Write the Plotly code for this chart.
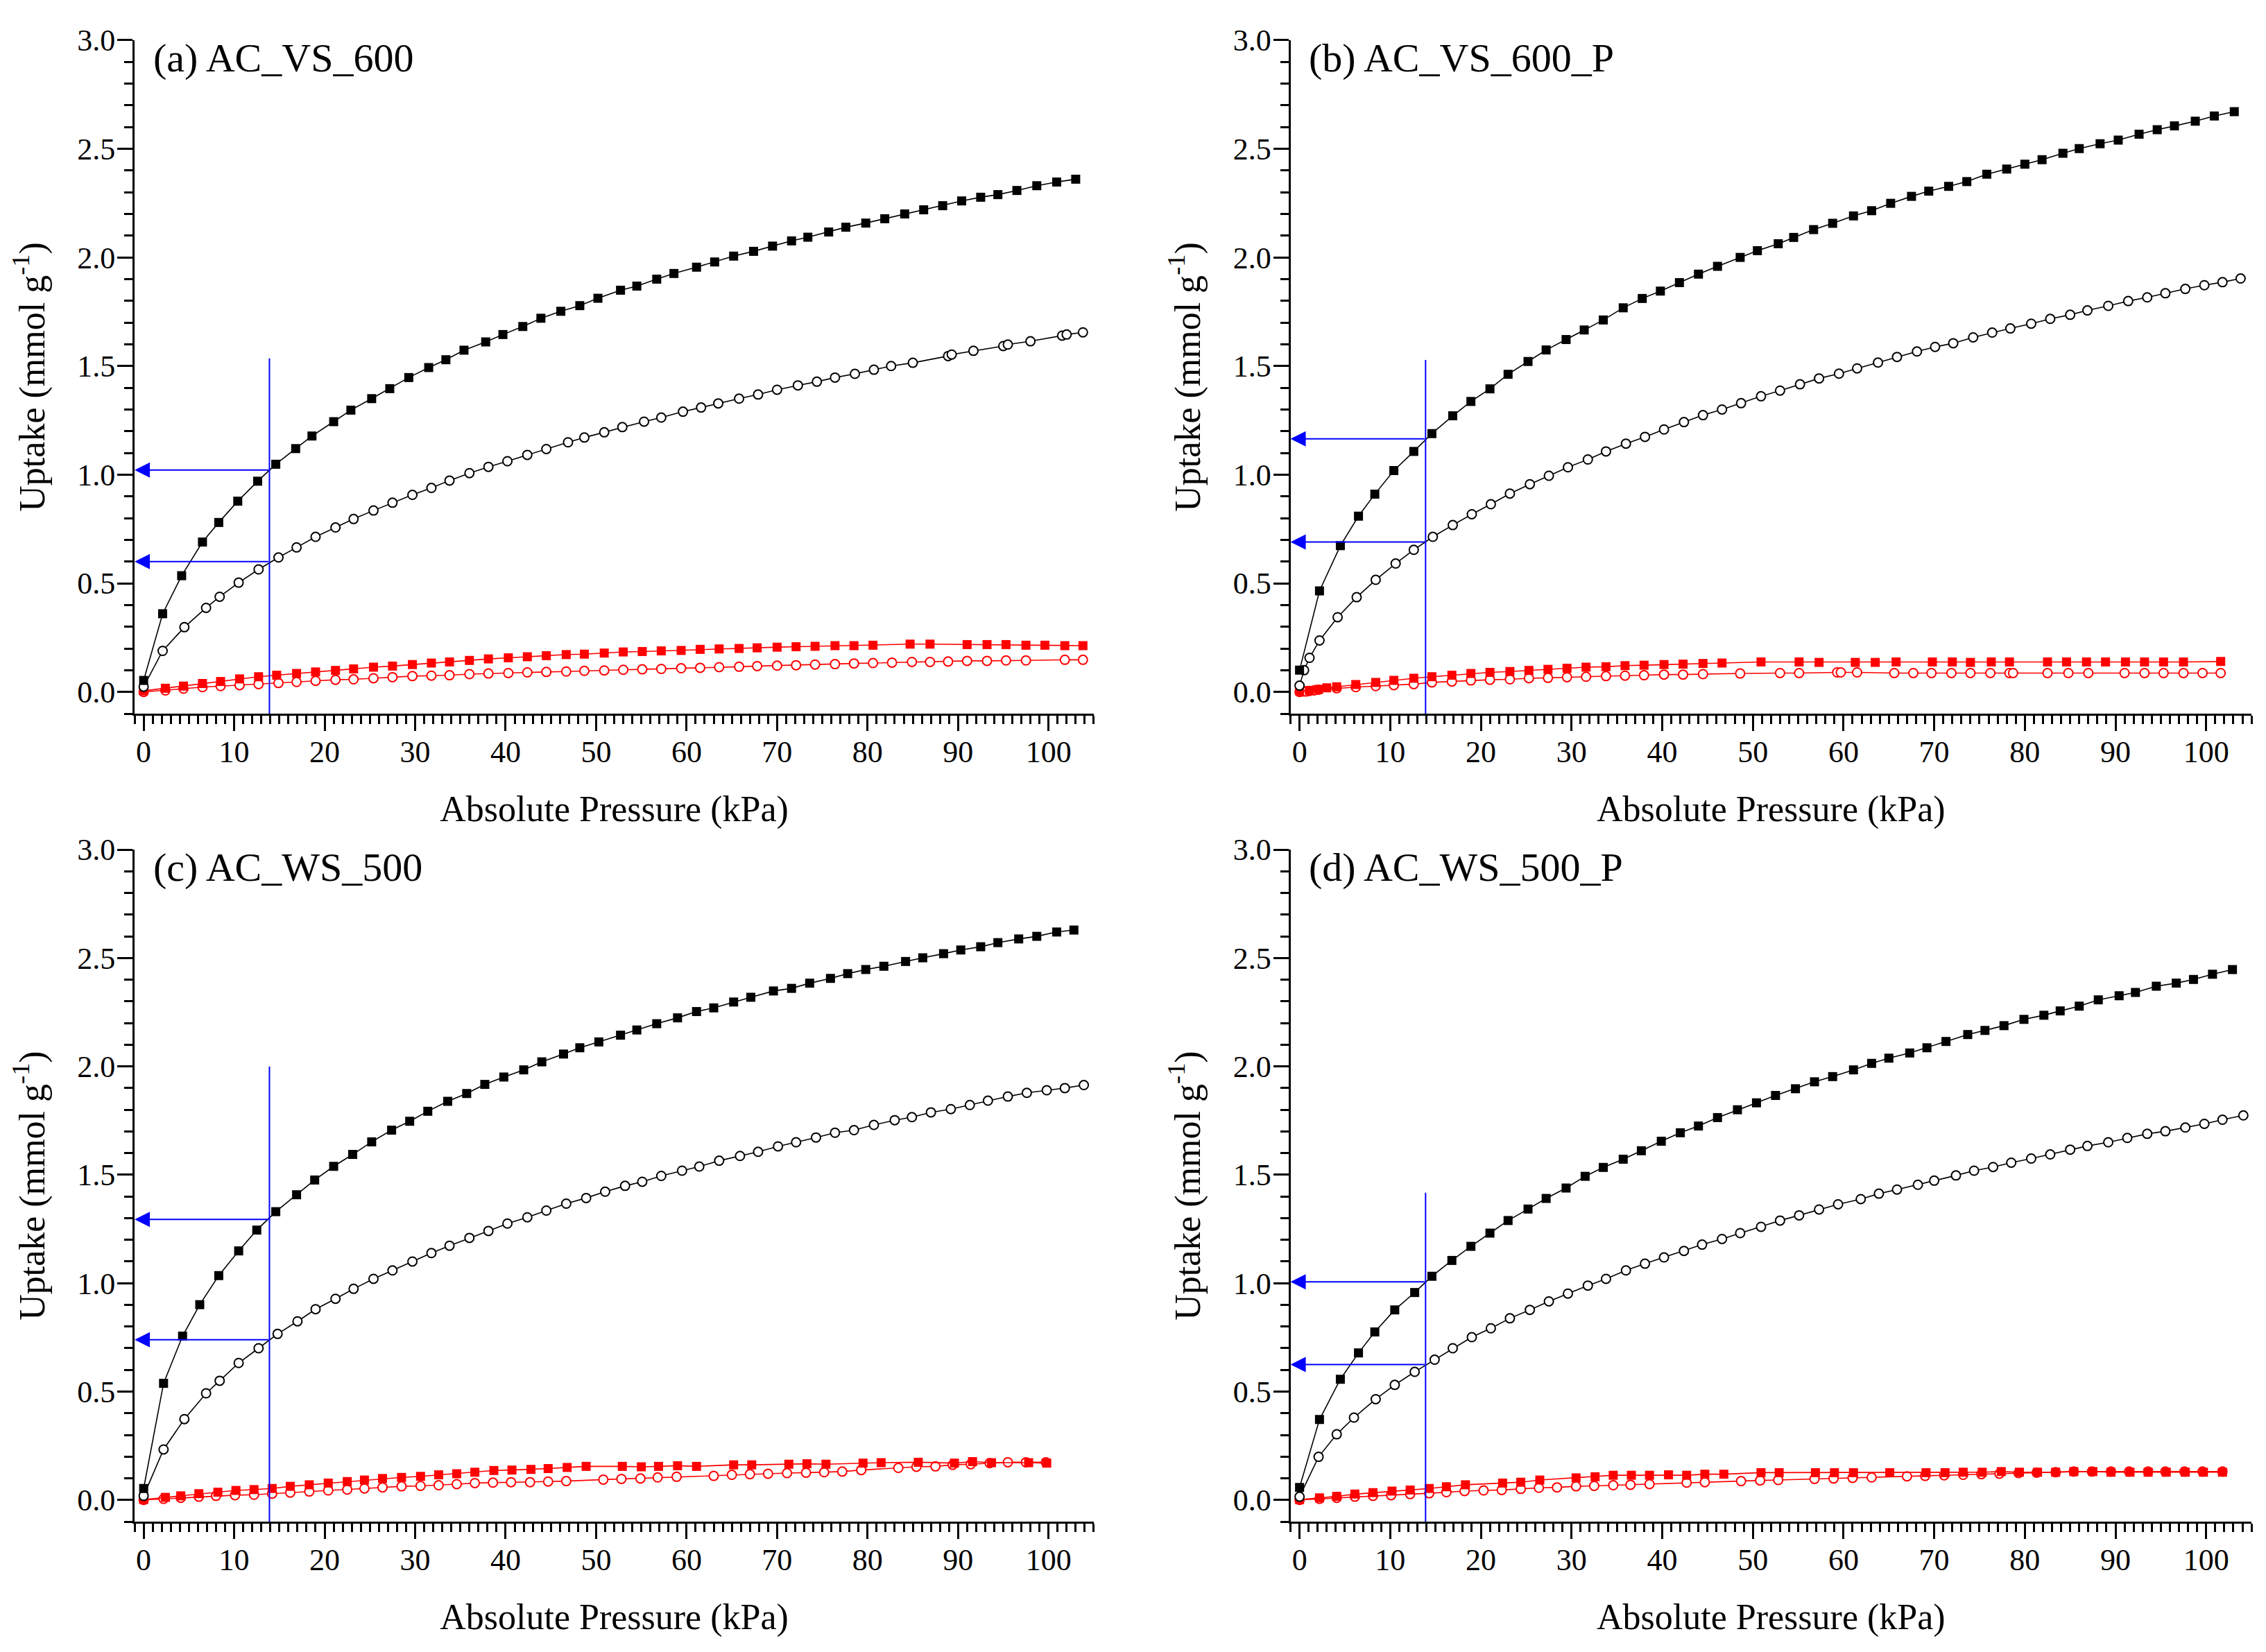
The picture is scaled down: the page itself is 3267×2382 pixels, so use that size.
import plotly.graph_objects as go

# Isotermas de adsorção: quadrado cheio / círculo aberto, preto e vermelho
# (a) AC_VS_600
a_sq_x = [0, 2.1, 4.2, 6.5, 8.3, 10.4, 12.6, 14.6, 16.8, 18.6, 21.0, 22.9, 25.2, 27.2, 29.3, 31.5, 33.4, 35.4, 37.8, 39.7,
          41.9, 43.9, 46.1, 48.2, 50.2, 52.7, 54.5, 56.7, 58.6, 61.1, 63.1, 65.2, 67.4, 69.5, 71.6, 73.4, 75.7, 77.6, 79.8, 81.9,
          84.1, 86.2, 88.3, 90.4, 92.5, 94.4, 96.5, 98.7, 100.9, 103.0]
a_sq_y = [0.053, 0.36, 0.535, 0.69, 0.78, 0.878, 0.97, 1.048, 1.12, 1.178, 1.244, 1.297, 1.35, 1.396, 1.447, 1.493, 1.529,
          1.573, 1.611, 1.645, 1.682, 1.72, 1.752, 1.778, 1.812, 1.849, 1.868, 1.9, 1.926, 1.955, 1.979, 2.006, 2.028, 2.052,
          2.076, 2.093, 2.117, 2.139, 2.158, 2.178, 2.2, 2.219, 2.238, 2.26, 2.277, 2.289, 2.308, 2.33, 2.347, 2.36]
a_ci_x = [0, 2.1, 4.5, 6.9, 8.4, 10.5, 12.7, 14.9, 16.9, 19.0, 21.2, 23.2, 25.4, 27.5, 29.7, 31.8, 33.8, 36.0, 38.1, 40.2,
          42.4, 44.5, 46.9, 48.7, 50.9, 52.9, 55.3, 57.2, 59.6, 61.6, 63.5, 65.8, 67.9, 70.0, 72.3, 74.4, 76.4, 78.6, 80.7, 82.6,
          85.0, 88.9, 89.3, 91.7, 95.0, 95.5, 98.0, 101.5, 102.0, 103.8]
a_ci_y = [0.024, 0.189, 0.298, 0.387, 0.438, 0.503, 0.564, 0.619, 0.665, 0.714, 0.757, 0.796, 0.835, 0.871, 0.907, 0.939,
          0.973, 1.007, 1.036, 1.062, 1.091, 1.118, 1.149, 1.171, 1.195, 1.219, 1.244, 1.263, 1.29, 1.309, 1.328, 1.35, 1.369,
          1.391, 1.411, 1.428, 1.447, 1.464, 1.483, 1.5, 1.515, 1.546, 1.553, 1.57, 1.592, 1.599, 1.614, 1.64, 1.645, 1.655]
a_rsq_x = [0, 2.4, 4.4, 6.5, 8.5, 10.6, 12.7, 14.7, 16.9, 19.0, 21.2, 23.2, 25.4, 27.5, 29.7, 31.8, 33.8, 36.0, 38.1, 40.3,
           42.4, 44.5, 46.7, 48.7, 50.9, 53.0, 55.1, 57.2, 59.4, 61.5, 63.6, 65.8, 67.8, 70.0, 72.1, 74.2, 76.4, 78.5, 80.6,
           84.7, 86.9, 91.0, 93.2, 95.3, 97.5, 99.6, 101.8, 103.8]
a_rsq_y = [0.005, 0.017, 0.027, 0.039, 0.048, 0.06, 0.07, 0.077, 0.085, 0.092, 0.099, 0.106, 0.114, 0.119, 0.126, 0.133,
           0.138, 0.145, 0.152, 0.157, 0.162, 0.167, 0.172, 0.174, 0.179, 0.184, 0.186, 0.189, 0.191, 0.196, 0.198, 0.2, 0.203,
           0.206, 0.208, 0.21, 0.213, 0.213, 0.215, 0.22, 0.22, 0.218, 0.218, 0.218, 0.215, 0.215, 0.213, 0.213]
a_rci_x = [0, 2.4, 4.4, 6.5, 8.5, 10.6, 12.7, 14.9, 16.9, 19.0, 21.2, 23.2, 25.4, 27.5, 29.7, 31.8, 33.8, 36.0, 38.1, 40.3,
           42.4, 44.5, 46.7, 48.7, 50.9, 53.0, 55.1, 57.2, 59.4, 61.5, 63.6, 65.8, 67.8, 70.0, 72.1, 74.2, 76.4, 78.5, 80.6,
           82.7, 84.9, 86.9, 88.9, 91.0, 93.2, 95.3, 97.5, 101.8, 103.8]
a_rci_y = [0, 0.007, 0.015, 0.022, 0.027, 0.031, 0.036, 0.041, 0.046, 0.051, 0.056, 0.058, 0.063, 0.068, 0.073, 0.075, 0.077,
           0.082, 0.085, 0.087, 0.09, 0.092, 0.094, 0.097, 0.099, 0.102, 0.104, 0.106, 0.109, 0.111, 0.114, 0.116, 0.119,
           0.121, 0.123, 0.126, 0.128, 0.131, 0.133, 0.135, 0.138, 0.138, 0.14, 0.143, 0.143, 0.145, 0.145, 0.148, 0.148]

# (b) AC_VS_600_P
b_sq_x = [0, 2.2, 4.5, 6.5, 8.3, 10.4, 12.6, 14.6, 16.9, 18.9, 21.0, 23.0, 25.2, 27.2, 29.4, 31.4, 33.5, 35.7, 37.8, 39.8,
          41.9, 44.0, 46.1, 48.6, 50.5, 52.8, 54.5, 56.7, 58.8, 61.1, 63.1, 65.2, 67.5, 69.4, 71.6, 73.6, 75.8, 78.0, 80.0, 81.9,
          84.2, 86.0, 88.3, 90.3, 92.6, 94.6, 96.5, 98.8, 100.9, 103.1]
b_sq_y = [0.10, 0.465, 0.673, 0.809, 0.91, 1.019, 1.107, 1.189, 1.271, 1.337, 1.395, 1.462, 1.521, 1.574, 1.622, 1.666,
          1.712, 1.768, 1.811, 1.845, 1.884, 1.923, 1.959, 2.0, 2.031, 2.063, 2.092, 2.128, 2.157, 2.191, 2.215, 2.249, 2.281,
          2.305, 2.327, 2.349, 2.383, 2.407, 2.429, 2.45, 2.479, 2.501, 2.523, 2.54, 2.567, 2.588, 2.605, 2.627, 2.651, 2.671]
b_ci_x = [0, 0.5, 1.1, 2.2, 4.2, 6.3, 8.4, 10.6, 12.6, 14.7, 16.9, 19.0, 21.1, 23.2, 25.4, 27.5, 29.6, 31.8, 33.8, 36.0,
          38.1, 40.2, 42.4, 44.5, 46.6, 48.7, 50.9, 53.0, 55.2, 57.3, 59.5, 61.5, 63.8, 65.9, 68.1, 70.1, 72.1, 74.3, 76.4, 78.4,
          80.7, 82.8, 85.0, 86.9, 89.2, 91.4, 93.5, 95.5, 97.7, 99.8, 101.8, 103.8]
b_ci_y = [0.029, 0.10, 0.157, 0.237, 0.344, 0.436, 0.516, 0.591, 0.654, 0.714, 0.768, 0.818, 0.864, 0.913, 0.956, 0.995,
          1.034, 1.07, 1.107, 1.143, 1.174, 1.208, 1.242, 1.274, 1.3, 1.329, 1.361, 1.387, 1.416, 1.443, 1.465, 1.489, 1.516,
          1.542, 1.567, 1.588, 1.605, 1.632, 1.654, 1.673, 1.695, 1.717, 1.736, 1.756, 1.777, 1.799, 1.816, 1.835, 1.855,
          1.872, 1.886, 1.903]
b_rsq_x = [0, 1.1, 2.1, 3.0, 4.1, 6.2, 8.4, 10.4, 12.6, 14.6, 16.8, 18.9, 21.0, 23.2, 25.3, 27.4, 29.5, 31.6, 33.8, 35.9,
           38.0, 40.2, 42.3, 44.5, 46.6, 50.9, 55.1, 57.3, 61.3, 63.5, 65.8, 69.8, 72.0, 74.0, 76.3, 78.3, 82.5, 84.6, 86.8,
           88.9, 91.1, 93.2, 95.3, 97.5, 101.6]
b_rsq_y = [0.005, 0.007, 0.012, 0.019, 0.024, 0.034, 0.044, 0.053, 0.063, 0.07, 0.077, 0.085, 0.09, 0.094, 0.099, 0.104,
           0.109, 0.114, 0.116, 0.121, 0.123, 0.126, 0.128, 0.131, 0.133, 0.138, 0.138, 0.136, 0.136, 0.136, 0.138, 0.138,
           0.138, 0.136, 0.138, 0.138, 0.138, 0.138, 0.138, 0.138, 0.138, 0.138, 0.138, 0.138, 0.14]
b_rci_x = [0, 0.3, 0.7, 1.1, 1.6, 2.1, 4.1, 6.2, 8.4, 10.4, 12.6, 14.6, 16.8, 18.9, 21.0, 23.2, 25.3, 27.4, 29.5, 31.6,
           33.8, 35.9, 38.0, 40.2, 42.3, 44.5, 48.6, 53.0, 55.1, 59.3, 59.7, 61.5, 65.6, 67.7, 69.7, 71.9, 74.0, 76.2, 78.3,
           78.7, 82.5, 84.8, 87.0, 91.0, 93.2, 95.3, 97.5, 99.6, 101.6]
b_rci_y = [0, 0.002, 0.002, 0.005, 0.007, 0.01, 0.017, 0.022, 0.027, 0.031, 0.036, 0.044, 0.048, 0.053, 0.056, 0.058,
           0.063, 0.065, 0.068, 0.07, 0.073, 0.075, 0.077, 0.08, 0.08, 0.082, 0.085, 0.087, 0.087, 0.09, 0.09, 0.09, 0.087,
           0.087, 0.087, 0.087, 0.087, 0.087, 0.087, 0.087, 0.087, 0.087, 0.087, 0.087, 0.087, 0.087, 0.087, 0.087, 0.087]

# (c) AC_WS_500
c_sq_x = [0, 2.2, 4.3, 6.2, 8.3, 10.5, 12.5, 14.6, 16.9, 18.9, 21.0, 23.1, 25.2, 27.4, 29.4, 31.4, 33.6, 35.7, 37.7, 39.8,
          42.0, 44.0, 46.4, 48.2, 50.3, 52.7, 54.5, 56.7, 59.0, 61.1, 63.0, 65.2, 67.1, 69.6, 71.6, 73.6, 75.9, 77.8, 79.8, 81.8,
          84.2, 86.1, 88.4, 90.3, 92.5, 94.4, 96.7, 98.7, 100.9, 102.8]
c_sq_y = [0.053, 0.538, 0.756, 0.901, 1.035, 1.149, 1.245, 1.33, 1.408, 1.476, 1.539, 1.594, 1.652, 1.706, 1.747, 1.793,
          1.839, 1.875, 1.917, 1.951, 1.984, 2.021, 2.057, 2.086, 2.113, 2.144, 2.168, 2.197, 2.224, 2.253, 2.27, 2.297, 2.319,
          2.348, 2.36, 2.384, 2.406, 2.428, 2.447, 2.462, 2.484, 2.501, 2.52, 2.537, 2.552, 2.571, 2.588, 2.6, 2.62, 2.629]
c_ci_x = [0, 2.2, 4.5, 6.9, 8.4, 10.5, 12.7, 14.8, 17.0, 19.0, 21.2, 23.2, 25.4, 27.5, 29.7, 31.8, 33.8, 36.0, 38.1, 40.2,
          42.4, 44.5, 46.7, 48.9, 51.0, 53.2, 55.1, 57.2, 59.5, 61.4, 63.6, 65.9, 67.9, 70.1, 72.1, 74.3, 76.4, 78.5, 80.7, 83.0,
          84.9, 87.0, 89.2, 91.3, 93.3, 95.5, 97.6, 99.8, 101.8, 103.9]
c_ci_y = [0.019, 0.233, 0.373, 0.492, 0.55, 0.632, 0.7, 0.766, 0.824, 0.88, 0.928, 0.974, 1.02, 1.059, 1.1, 1.139, 1.173,
          1.209, 1.241, 1.275, 1.304, 1.335, 1.367, 1.393, 1.422, 1.449, 1.468, 1.495, 1.519, 1.538, 1.565, 1.587, 1.606,
          1.631, 1.65, 1.672, 1.694, 1.706, 1.73, 1.752, 1.766, 1.788, 1.803, 1.822, 1.842, 1.861, 1.878, 1.89, 1.9, 1.914]
c_rsq_x = [0, 2.4, 4.1, 6.1, 8.2, 10.2, 12.2, 14.2, 16.2, 18.3, 20.4, 22.5, 24.4, 26.4, 28.5, 30.6, 32.6, 34.6, 36.6, 38.7,
           40.7, 42.8, 44.7, 46.8, 48.9, 52.9, 55.0, 56.9, 59.0, 61.1, 65.2, 67.2, 71.3, 73.3, 75.4, 79.5, 81.5, 85.6, 89.6,
           91.6, 93.7, 97.8, 99.8]
c_rsq_y = [0.002, 0.012, 0.019, 0.029, 0.036, 0.044, 0.048, 0.053, 0.063, 0.07, 0.078, 0.085, 0.092, 0.099, 0.104, 0.109,
           0.116, 0.121, 0.128, 0.136, 0.138, 0.141, 0.145, 0.15, 0.155, 0.155, 0.153, 0.155, 0.158, 0.155, 0.162, 0.162,
           0.165, 0.167, 0.165, 0.17, 0.172, 0.174, 0.17, 0.177, 0.172, 0.172, 0.17]
c_rci_x = [0, 2.2, 4.1, 6.1, 8.0, 10.1, 12.2, 14.2, 16.2, 18.3, 20.4, 22.5, 24.4, 26.4, 28.5, 30.6, 32.6, 34.6, 36.6, 38.6,
           40.6, 42.7, 44.7, 46.7, 50.8, 52.8, 54.9, 56.8, 58.9, 63.0, 65.0, 67.0, 69.0, 71.1, 73.2, 75.2, 77.2, 79.3, 83.4,
           85.4, 87.5, 89.4, 91.4, 93.5, 95.5, 97.5, 99.7]
c_rci_y = [0, 0.005, 0.01, 0.015, 0.019, 0.022, 0.024, 0.029, 0.034, 0.039, 0.044, 0.048, 0.053, 0.058, 0.063, 0.065,
           0.068, 0.073, 0.078, 0.08, 0.082, 0.082, 0.085, 0.087, 0.094, 0.097, 0.099, 0.104, 0.107, 0.111, 0.116, 0.119,
           0.121, 0.124, 0.126, 0.128, 0.131, 0.138, 0.148, 0.153, 0.155, 0.162, 0.165, 0.17, 0.174, 0.174, 0.174]

# (d) AC_WS_500_P
d_sq_x = [0, 2.2, 4.5, 6.5, 8.3, 10.5, 12.7, 14.6, 16.8, 18.9, 21.0, 23.0, 25.2, 27.2, 29.4, 31.5, 33.5, 35.7, 37.7, 39.9,
          42.0, 44.0, 46.1, 48.3, 50.4, 52.5, 54.7, 56.8, 58.8, 61.1, 63.1, 65.0, 67.3, 69.2, 71.3, 73.7, 75.6, 77.7, 79.9, 82.1,
          83.9, 86.0, 88.1, 90.4, 92.2, 94.5, 96.7, 98.6, 100.7, 102.9]
d_sq_y = [0.058, 0.371, 0.557, 0.678, 0.775, 0.877, 0.957, 1.032, 1.105, 1.17, 1.231, 1.289, 1.342, 1.391, 1.439, 1.493,
          1.534, 1.572, 1.611, 1.655, 1.694, 1.725, 1.764, 1.8, 1.832, 1.866, 1.897, 1.929, 1.953, 1.984, 2.014, 2.038, 2.062,
          2.086, 2.115, 2.147, 2.166, 2.188, 2.217, 2.236, 2.256, 2.278, 2.307, 2.326, 2.341, 2.37, 2.384, 2.401, 2.425, 2.447]
d_ci_x = [0, 2.1, 4.1, 6.0, 8.4, 10.5, 12.7, 14.9, 16.9, 19.0, 21.1, 23.2, 25.4, 27.5, 29.6, 31.8, 33.8, 36.0, 38.1, 40.2,
          42.4, 44.4, 46.6, 48.6, 50.9, 53.0, 55.1, 57.3, 59.4, 61.9, 63.9, 65.9, 68.2, 70.0, 72.4, 74.4, 76.5, 78.5, 80.7, 82.8,
          85.0, 86.9, 89.2, 91.3, 93.5, 95.5, 97.7, 99.8, 101.8, 104.1]
d_ci_y = [0.015, 0.199, 0.303, 0.38, 0.465, 0.531, 0.591, 0.647, 0.7, 0.751, 0.792, 0.838, 0.877, 0.916, 0.952, 0.989,
          1.02, 1.059, 1.09, 1.119, 1.149, 1.178, 1.204, 1.231, 1.26, 1.289, 1.313, 1.34, 1.364, 1.388, 1.413, 1.432, 1.454,
          1.473, 1.497, 1.519, 1.536, 1.556, 1.575, 1.594, 1.616, 1.633, 1.65, 1.67, 1.689, 1.701, 1.718, 1.735, 1.754, 1.774]
d_rsq_x = [0, 2.2, 4.1, 6.1, 8.1, 10.2, 12.2, 14.3, 16.2, 18.3, 22.4, 24.4, 26.5, 30.5, 32.6, 34.6, 36.6, 38.6, 40.7, 42.7,
           44.7, 46.8, 50.9, 52.9, 56.9, 59.0, 61.1, 65.1, 69.1, 71.2, 73.2, 75.3, 77.4, 79.4, 81.4, 83.4, 85.4, 87.5, 89.5,
           91.6, 93.6, 95.6, 97.7, 99.7, 101.8]
d_rsq_y = [0.002, 0.01, 0.017, 0.027, 0.034, 0.041, 0.046, 0.053, 0.061, 0.07, 0.078, 0.082, 0.092, 0.102, 0.107, 0.114,
           0.114, 0.114, 0.116, 0.114, 0.119, 0.119, 0.126, 0.126, 0.126, 0.126, 0.126, 0.126, 0.126, 0.126, 0.128, 0.128,
           0.131, 0.128, 0.128, 0.128, 0.131, 0.131, 0.128, 0.128, 0.128, 0.128, 0.128, 0.128, 0.128]
d_rci_x = [0, 2.2, 4.1, 6.1, 8.1, 10.1, 12.2, 14.3, 16.2, 18.2, 20.3, 22.3, 24.4, 26.4, 28.4, 30.5, 32.5, 34.6, 36.5, 38.6,
           42.7, 44.7, 48.7, 50.8, 52.8, 56.8, 58.9, 61.0, 63.1, 67.0, 69.0, 71.1, 73.2, 75.2, 77.2, 79.3, 81.3, 83.4, 85.4,
           87.4, 89.5, 91.5, 93.6, 95.5, 97.6, 99.6, 101.8]
d_rci_y = [0, 0.005, 0.01, 0.015, 0.019, 0.022, 0.027, 0.031, 0.036, 0.041, 0.044, 0.046, 0.051, 0.056, 0.058, 0.063,
           0.065, 0.068, 0.07, 0.073, 0.08, 0.082, 0.087, 0.09, 0.092, 0.097, 0.099, 0.102, 0.104, 0.109, 0.111, 0.114,
           0.116, 0.119, 0.121, 0.124, 0.126, 0.128, 0.131, 0.131, 0.131, 0.131, 0.131, 0.131, 0.131, 0.131, 0.131]

# Marcação em azul: pressão de referência e leituras no eixo y
titulos = ["(a) AC_VS_600", "(b) AC_VS_600_P", "(c) AC_WS_500", "(d) AC_WS_500_P"]
pressao_ref = 13.9
topo_linha = [1.535, 1.528, 2.0, 1.417]
leituras = [[1.021, 0.60], [1.165, 0.69], [1.294, 0.739], [1.006, 0.625]]

series = [
    [(a_rci_x, a_rci_y), (a_rsq_x, a_rsq_y), (a_ci_x, a_ci_y), (a_sq_x, a_sq_y)],
    [(b_rci_x, b_rci_y), (b_rsq_x, b_rsq_y), (b_ci_x, b_ci_y), (b_sq_x, b_sq_y)],
    [(c_rci_x, c_rci_y), (c_rsq_x, c_rsq_y), (c_ci_x, c_ci_y), (c_sq_x, c_sq_y)],
    [(d_rci_x, d_rci_y), (d_rsq_x, d_rsq_y), (d_ci_x, d_ci_y), (d_sq_x, d_sq_y)],
]
estilos = [("red", "circle"), ("red", "square"), ("black", "circle"), ("black", "square")]

FONTE = "Liberation Serif"
dom_x = [[0.0594, 0.4827], [0.5695, 0.9936], [0.0594, 0.4827], [0.5695, 0.9936]]
dom_y = [[0.568, 0.9757], [0.568, 0.9757], [0.0789, 0.4857], [0.0789, 0.4857]]

fig = go.Figure()
layout = {}
anotacoes = []
formas = []

for i in range(4):
    sfx = "" if i == 0 else str(i + 1)
    xr, yr = "x" + sfx, "y" + sfx
    for (xs, ys), (cor, simbolo) in zip(series[i], estilos):
        if simbolo == "circle":
            marcador = dict(symbol="circle", size=13, color="white", line=dict(color=cor, width=2))
        else:
            marcador = dict(symbol="square", size=13, color=cor, line=dict(width=0))
        fig.add_trace(go.Scatter(x=xs, y=ys, mode="lines+markers", xaxis=xr, yaxis=yr,
                                 line=dict(color=cor, width=1.6), marker=marcador, showlegend=False))

    layout["xaxis" + sfx] = dict(
        domain=dom_x[i], anchor=yr, range=[-1, 105], automargin=False,
        showline=True, linewidth=3, linecolor="black",
        ticks="outside", ticklen=22, tickwidth=3, tickcolor="black", tick0=0, dtick=10, ticklabelstandoff=-8,
        minor=dict(ticks="outside", ticklen=12, tickwidth=3, tickcolor="black", tick0=0, dtick=1),
        showgrid=False, zeroline=False, tickfont=dict(family=FONTE, size=44, color="black"),
        title=dict(text="Absolute Pressure (kPa)", font=dict(family=FONTE, size=52, color="black"), standoff=40))
    layout["yaxis" + sfx] = dict(
        domain=dom_y[i], anchor=xr, range=[-0.1, 3.0], automargin=False,
        showline=True, linewidth=3, linecolor="black",
        ticks="outside", ticklen=22, tickwidth=3, tickcolor="black", tick0=0, dtick=0.5, tickformat=".1f",
        ticklabelstandoff=-6,
        minor=dict(ticks="outside", ticklen=12, tickwidth=3, tickcolor="black", tick0=0, dtick=0.1),
        showgrid=False, zeroline=False, tickfont=dict(family=FONTE, size=44, color="black"),
        title=dict(text="Uptake (mmol g<sup>-1</sup>)", font=dict(family=FONTE, size=52, color="black"), standoff=31))

    anotacoes.append(dict(text=titulos[i], xref=xr + " domain", yref=yr + " domain", x=0.018, y=0.974,
                          xanchor="left", yanchor="middle", showarrow=False,
                          font=dict(family=FONTE, size=58, color="black")))
    formas.append(dict(type="line", xref=xr, yref=yr, x0=pressao_ref, x1=pressao_ref, y0=-0.1, y1=topo_linha[i],
                       line=dict(color="#0000FF", width=2)))
    for v in leituras[i]:
        anotacoes.append(dict(text="", xref=xr, yref=yr, x=-1, y=v, axref=xr, ayref=yr, ax=pressao_ref, ay=v,
                              showarrow=True, arrowhead=2, arrowsize=2.2, arrowwidth=2, arrowcolor="#0000FF",
                              standoff=0, startstandoff=0))

fig.update_layout(width=3267, height=2382, margin=dict(l=0, r=0, t=0, b=0, autoexpand=False),
                  plot_bgcolor="white", paper_bgcolor="white",
                  annotations=anotacoes, shapes=formas, **layout)

# fixa o gráfico no canto superior esquerdo da página
ajuste_pagina = (
    "document.body.style.margin='0';document.body.style.overflow='hidden';"
    "var gd=document.getElementById('{plot_id}');"
    "gd.style.position='absolute';gd.style.top='0px';gd.style.left='0px';"
)
fig.write_html("out.html", config={"displayModeBar": False}, post_script=ajuste_pagina)
